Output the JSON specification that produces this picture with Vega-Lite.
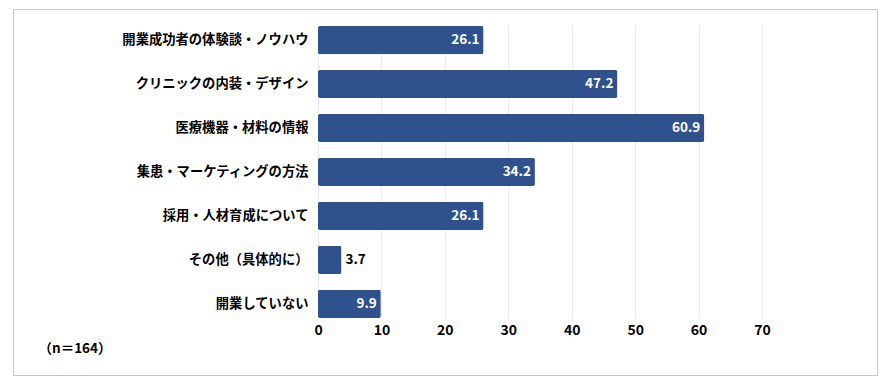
{
  "$schema": "https://vega.github.io/schema/vega-lite/v6.json",
  "autosize": {"type": "none"},
  "padding": {"left": 13, "top": 9, "right": 4, "bottom": 5},
  "width": 864,
  "height": 366,
  "data": {"values": [
    {"item": "開業成功者の体験談・ノウハウ", "value": 26.1},
    {"item": "クリニックの内装・デザイン", "value": 47.2},
    {"item": "医療機器・材料の情報", "value": 60.9},
    {"item": "集患・マーケティングの方法", "value": 34.2},
    {"item": "採用・人材育成について", "value": 26.1},
    {"item": "その他（具体的に）", "value": 3.7},
    {"item": "開業していない", "value": 9.9}
  ]},
  "config": {
    "view": {"stroke": "#c8c8c8", "strokeWidth": 1},
    "font": "Noto Sans CJK JP"
  },
  "resolve": {"axis": {"x": "independent"}},
  "encoding": {
    "y": {
      "field": "item", "type": "nominal", "sort": null,
      "scale": {"range": [17, 309], "paddingInner": 0.36, "paddingOuter": 0},
      "axis": {"title": null, "offset": -305, "domain": false, "ticks": false, "labelPadding": 10,
               "labelFont": "Noto Sans CJK JP", "labelFontWeight": "bold", "labelFontSize": 13.3, "labelColor": "#000000", "labelLimit": 300}
    }
  },
  "layer": [
    {"mark": {"type": "bar", "color": "#2F528F", "cornerRadius": 2},
     "encoding": {
       "x": {
         "field": "value", "type": "quantitative",
         "scale": {"domain": [0, 70], "range": [305, 749], "nice": false},
         "axis": {"orient": "bottom", "values": [0, 10, 20, 30, 40, 50, 60, 70], "offset": -57, "domain": false, "ticks": false, "labelPadding": 5, "labelFlush": false,
                  "labelFont": "Noto Sans CJK JP", "labelFontWeight": "bold", "labelFontSize": 14, "labelColor": "#000000",
                  "grid": false,
                  "title": "（n＝164）", "titleX": 25, "titleY": 30, "titleAlign": "left", "titleBaseline": "middle", "titleAnchor": null,
                  "titleFont": "Noto Sans CJK JP", "titleFontWeight": "bold", "titleFontSize": 13.5, "titleColor": "#000000"}
       }
     }},
    {"transform": [{"filter": "datum.value >= 5"}],
     "mark": {"type": "text", "align": "right", "baseline": "middle", "dx": -4, "color": "#ffffff", "fontWeight": "bold", "fontSize": 13.5, "font": "Noto Sans CJK JP"},
     "encoding": {
       "x": {
         "field": "value", "type": "quantitative",
         "axis": {"orient": "top", "values": [0, 10, 20, 30, 40, 50, 60, 70], "domain": false, "ticks": false, "labels": false, "title": null,
                  "grid": true, "gridColor": "#ebebeb", "gridWidth": 1}
       },
       "text": {"field": "value", "type": "quantitative", "format": ".1f"}
     }},
    {"transform": [{"filter": "datum.value < 5"}],
     "mark": {"type": "text", "align": "left", "baseline": "middle", "dx": 4, "color": "#000000", "fontWeight": "bold", "fontSize": 13.5, "font": "Noto Sans CJK JP"},
     "encoding": {
       "x": {"field": "value", "type": "quantitative", "axis": null},
       "text": {"field": "value", "type": "quantitative", "format": ".1f"}
     }}
  ]
}
